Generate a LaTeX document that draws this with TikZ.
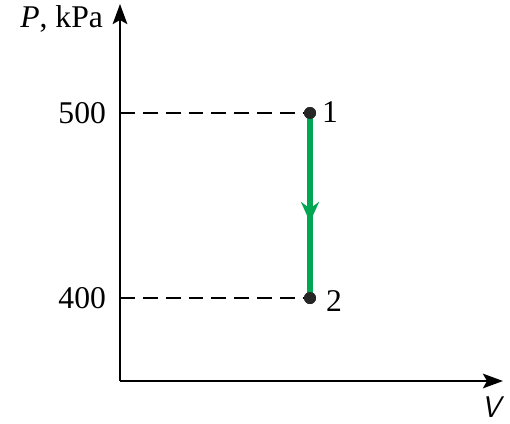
\documentclass[tikz,border=0pt]{standalone}
\usepackage{fontspec}
\setmainfont{Liberation Serif}
\usepackage{xcolor}
\usetikzlibrary{arrows.meta,positioning}
\definecolor{procgreen}{RGB}{0,166,81}

\begin{document}
\begin{tikzpicture}[
    x=0.02cm,y=-0.02cm,
    axis/.style={line width=1.5pt,-{Stealth[length=4mm,width=2.9mm,inset=0.8mm]}},
    guide/.style={line width=0.9pt,dash pattern=on 8.5pt off 4.5pt},
    state/.style={circle,fill=black!85,inner sep=0pt,minimum size=2.4mm},
    process/.style={line width=3.2pt,color=procgreen},
    lbl/.style={font=\fontsize{18}{21}\selectfont,inner sep=1pt}
]
    \useasboundingbox (0,0) rectangle (510,423);

    % Nodes
    \coordinate (O) at (120,381);
    \coordinate (ytip) at (120,4);
    \coordinate (xtip) at (503,381);
    \coordinate (p500) at (120,113);
    \coordinate (p400) at (120,298);
    \node[state] (s1) at (310,113) {};
    \node[state] (s2) at (310,298) {};
    \coordinate (mid) at (310,222);

    % Arrows
    \draw[guide] (p500) -- (s1);
    \draw[guide] (p400) -- (s2);
    \draw[process] (s1.center) -- (s2.center);
    \draw[process,-{Stealth[length=4mm,width=3.6mm,inset=1.3mm]}] (s1.center) -- (mid);
    \node[state] at (s1) {};
    \node[state] at (s2) {};
    \draw[axis] (O) -- (ytip);
    \draw[axis] (O) -- (xtip);

    % Labels
    \node[lbl,left=0.24cm of p500] (t500) {500};
    \node[lbl,left=0.24cm of p400] (t400) {400};
    \node[lbl] (t1) at (330,112) {1};
    \node[lbl] (t2) at (334,301) {2};
    \node[lbl,anchor=east] (ylab) at (105,19) {\textit{P}, kPa};
    \node[lbl,font=\fontsize{17}{20}\sffamily\itshape] (xlab) at (491,407) {V};
\end{tikzpicture}
\end{document}
